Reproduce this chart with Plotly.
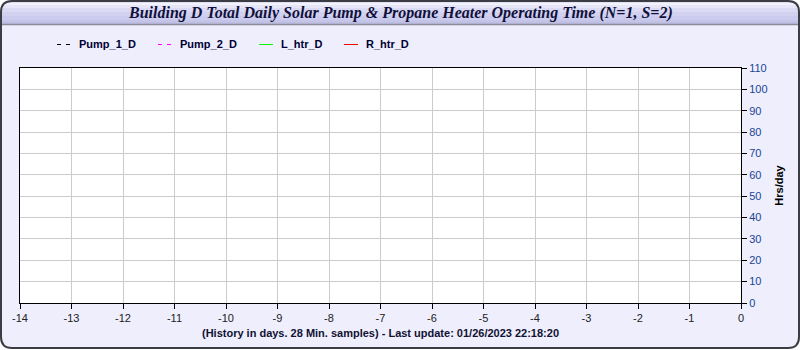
import plotly.graph_objects as go

# ---- data ----
series_names = ["Pump_1_D", "Pump_2_D", "L_htr_D", "R_htr_D"]
series_colors = ["#000000", "#ff00ff", "#00ff00", "#ff0000"]
series_dash = ["dash", "dash", "solid", "solid"]
days_pump_1 = []
vals_pump_1 = []
days_pump_2 = []
vals_pump_2 = []
days_l_htr = []
vals_l_htr = []
days_r_htr = []
vals_r_htr = []
x_ticks = list(range(-14, 1))
y_ticks = list(range(0, 111, 10))
title_text = "Building D Total Daily Solar Pump &amp; Propane Heater Operating Time (N=1, S=2)"
x_title = "(History in days. 28 Min. samples) - Last update: 01/26/2023 22:18:20"
y_title = "Hrs/day"

W, H = 800, 350
L, R, T, B = 20, 59, 68, 47
PW, PH = W - L - R, H - T - B


def px(x):
    return (x - L) / PW


def py(y):
    return 1 - (y - T) / PH


fig = go.Figure()
xs = [days_pump_1, days_pump_2, days_l_htr, days_r_htr]
ys = [vals_pump_1, vals_pump_2, vals_l_htr, vals_r_htr]
for name, c, d, xv, yv in zip(series_names, series_colors, series_dash, xs, ys):
    fig.add_trace(go.Scatter(x=xv, y=yv, mode="lines", name=name,
                             line=dict(color=c, dash=d, width=1), showlegend=False))

shapes = []


def rounded_path(x0, y0, x1, y1, r):
    return (f"M{px(x0 + r)},{py(y0)} L{px(x1 - r)},{py(y0)} Q{px(x1)},{py(y0)} {px(x1)},{py(y0 + r)} "
            f"L{px(x1)},{py(y1 - r)} Q{px(x1)},{py(y1)} {px(x1 - r)},{py(y1)} "
            f"L{px(x0 + r)},{py(y1)} Q{px(x0)},{py(y1)} {px(x0)},{py(y1 - r)} "
            f"L{px(x0)},{py(y0 + r)} Q{px(x0)},{py(y0)} {px(x0 + r)},{py(y0)} Z")


# page background with rounded frame
shapes.append(dict(type="path", xref="paper", yref="paper", layer="below",
                   path=rounded_path(1, 1, 799, 348, 11), fillcolor="#eeeefc",
                   line=dict(width=0)))
# title bar gradient
grad = [(1, "#e0e0f4"), (3, "#f2f2fc"), (5, "#e6e6f8"), (8, "#dadaf4"), (12, "#d2d2f0"),
        (16, "#cbcbee"), (20, "#c4c4e8"), (22, "#bebee2")]
for i, (y0, col) in enumerate(grad):
    y1 = grad[i + 1][0] if i + 1 < len(grad) else 24
    shapes.append(dict(type="rect", xref="paper", yref="paper", layer="below",
                       x0=px(2), x1=px(798), y0=py(y0), y1=py(y1), fillcolor=col,
                       line=dict(width=0)))
shapes.append(dict(type="line", xref="paper", yref="paper", layer="below",
                   x0=px(1), x1=px(799), y0=py(24.5), y1=py(24.5),
                   line=dict(color="#8a8a9a", width=1.5)))
# corner masks (top corners)
r = 11
shapes.append(dict(type="path", xref="paper", yref="paper", layer="below",
                   path=f"M{px(0)},{py(0)} L{px(1 + r)},{py(0)} L{px(1 + r)},{py(1)} Q{px(1)},{py(1)} {px(1)},{py(1 + r)} L{px(0)},{py(1 + r)} Z",
                   fillcolor="#ffffff", line=dict(width=0)))
shapes.append(dict(type="path", xref="paper", yref="paper", layer="below",
                   path=f"M{px(800)},{py(0)} L{px(799 - r)},{py(0)} L{px(799 - r)},{py(1)} Q{px(799)},{py(1)} {px(799)},{py(1 + r)} L{px(800)},{py(1 + r)} Z",
                   fillcolor="#ffffff", line=dict(width=0)))
# frame border
shapes.append(dict(type="path", xref="paper", yref="paper", layer="below",
                   path=rounded_path(1, 1, 799, 348, 11), fillcolor="rgba(0,0,0,0)",
                   line=dict(color="#3c3c44", width=2)))
# plot area
shapes.append(dict(type="rect", xref="paper", yref="paper", layer="below",
                   x0=0, x1=1, y0=0, y1=1, fillcolor="#ffffff", line=dict(width=0)))

annotations = [dict(text=f"<b><i>{title_text}</i></b>", xref="paper", yref="paper",
                    x=px(400), y=py(13), showarrow=False, xanchor="center", yanchor="middle",
                    font=dict(family="Liberation Serif", size=16, color="#10103a"))]

# legend (manual)
leg_x = [57, 158, 259, 344]
for name, c, d, lx in zip(series_names, series_colors, series_dash, leg_x):
    shapes.append(dict(type="line", xref="paper", yref="paper",
                       x0=px(lx), x1=px(lx + 14), y0=py(44.5), y1=py(44.5),
                       line=dict(color=c, width=1, dash="4px,5px" if d == "dash" else "solid")))
    annotations.append(dict(text=f"<b>{name}</b>", xref="paper", yref="paper",
                            x=px(lx + 20), y=py(44.5), showarrow=False,
                            xanchor="left", yanchor="middle",
                            font=dict(family="Liberation Sans", size=11, color="#000033")))

fig.update_layout(
    width=W, height=H,
    margin=dict(l=L, r=R, t=T, b=B, pad=0),
    paper_bgcolor="#ffffff", plot_bgcolor="rgba(0,0,0,0)",
    shapes=shapes, annotations=annotations, showlegend=False,
    font=dict(family="Liberation Sans", size=11),
    xaxis=dict(range=[-14, 0], tickvals=x_ticks, ticktext=[str(v) for v in x_ticks],
               showgrid=True, gridcolor="#cccccc", gridwidth=1, zeroline=False,
               showline=True, linecolor="#000000", linewidth=1, mirror=True,
               ticks="outside", ticklen=5, tickcolor="#000000",
               tickfont=dict(family="Liberation Sans", size=11, color="#222222"),
               title=dict(text=f"<b>{x_title}</b>", standoff=6,
                          font=dict(family="Liberation Sans", size=11, color="#111133"))),
    yaxis=dict(range=[0, 110], tickvals=y_ticks, side="right",
               showgrid=True, gridcolor="#cccccc", gridwidth=1, zeroline=False,
               showline=True, linecolor="#000000", linewidth=1, mirror=True,
               ticks="outside", ticklen=5, tickcolor="#000000",
               tickfont=dict(family="Liberation Sans", size=11, color="#1a4594"),
               title=dict(text=f"<b>{y_title}</b>", standoff=8,
                          font=dict(family="Liberation Sans", size=11, color="#000000"))),
)

fig.write_html("out.html")
